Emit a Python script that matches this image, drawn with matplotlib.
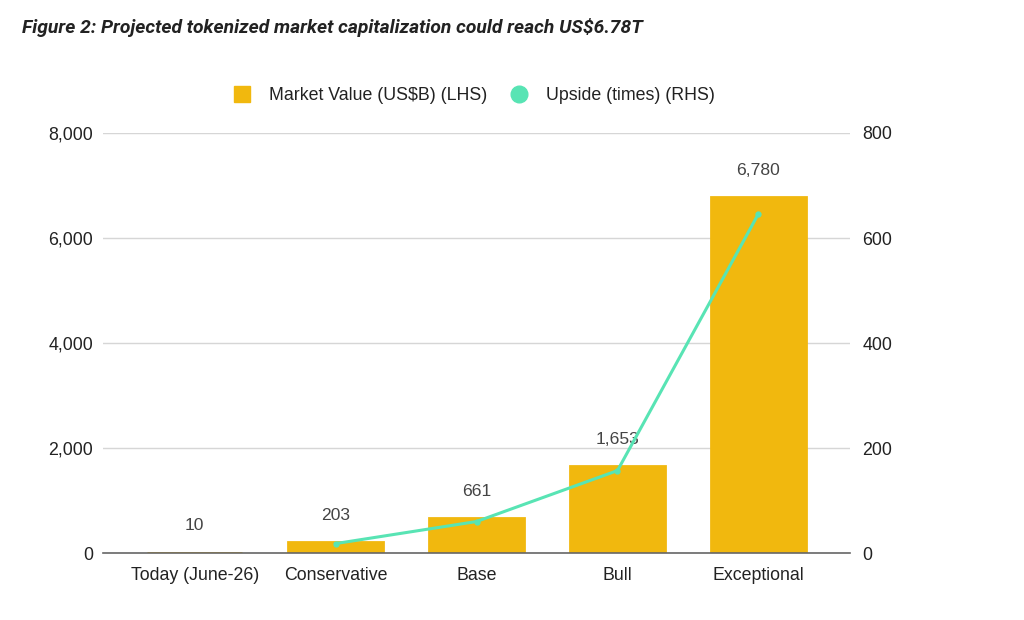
import matplotlib
matplotlib.use("Agg")
import matplotlib.pyplot as plt
import numpy as np
from matplotlib.lines import Line2D

categories = ["Today (June-26)", "Conservative", "Base", "Bull", "Exceptional"]
market_value = [10, 203, 661, 1653, 6780]
upside = [np.nan, 18, 60, 157, 646]
left_ticks = [0, 2000, 4000, 6000, 8000]
right_ticks = [0, 200, 400, 600, 800]

BAR = "#F1B80E"
LINE = "#58E4B4"
GRID = "#D6D6D6"
TXT = "#222222"
LBL = "#444444"
FS = 12.8

plt.rcParams["font.family"] = ["Liberation Sans", "DejaVu Sans"]

fig = plt.figure(figsize=(10.24, 6.2), dpi=100)
ax = fig.add_axes([0.1006, 0.108, 0.7295, 0.6775])
ax2 = ax.twinx()

x = np.arange(len(categories))
ax.bar(x, market_value, width=0.67, color=BAR, edgecolor=BAR, linewidth=2.0, zorder=2)
for xi, v in zip(x, market_value):
    ax.annotate(f"{v:,}", (xi, v), xytext=(0, 14), textcoords="offset points",
                ha="center", va="bottom", fontsize=12.6, color=LBL)

ax.set_ylim(0, 8000)
ax.set_yticks(left_ticks)
ax.set_yticklabels([f"{t:,}" for t in left_ticks])
ax.set_xlim(-0.65, 4.65)
ax.set_xticks(x)
ax.set_xticklabels(categories)
ax.grid(axis="y", color=GRID, linewidth=1, zorder=0)
ax.set_axisbelow(True)
for s in ["top", "right", "left"]:
    ax.spines[s].set_visible(False)
ax.spines["bottom"].set_color("#666666")
ax.spines["bottom"].set_linewidth(1.2)
ax.spines["bottom"].set_zorder(3)
ax.tick_params(axis="y", length=0, pad=7, labelsize=FS, labelcolor=TXT)
ax.tick_params(axis="x", length=0, pad=10, labelsize=FS, labelcolor=TXT)

ax2.plot(x, upside, color=LINE, linewidth=2.2, marker="o", markersize=3.5, zorder=4)
ax2.set_ylim(0, 800)
ax2.set_yticks(right_ticks)
ax2.set_yticklabels([str(t) for t in right_ticks])
for s in ["top", "right", "left", "bottom"]:
    ax2.spines[s].set_visible(False)
ax2.tick_params(axis="y", length=0, pad=9, labelsize=FS, labelcolor=TXT)

handles = [
    Line2D([], [], marker="s", linestyle="none", markersize=12, color=BAR, label="Market Value (US$B) (LHS)"),
    Line2D([], [], marker="o", linestyle="none", markersize=12, color=LINE, label="Upside (times) (RHS)"),
]
fig.legend(handles=handles, loc="center", bbox_to_anchor=(0.4585, 0.846), ncol=2,
           frameon=False, fontsize=FS, handletextpad=0.5, columnspacing=0.8,
           labelcolor=TXT)

fig.text(0.021, 0.955, "Figure 2: Projected tokenized market capitalization could reach US$6.78T",
         fontsize=13.9, fontweight="bold", fontstyle="italic", color="#222222",
         family=["Roboto", "DejaVu Sans"], ha="left", va="center")

fig.savefig("out.png", dpi=100, facecolor="white")
